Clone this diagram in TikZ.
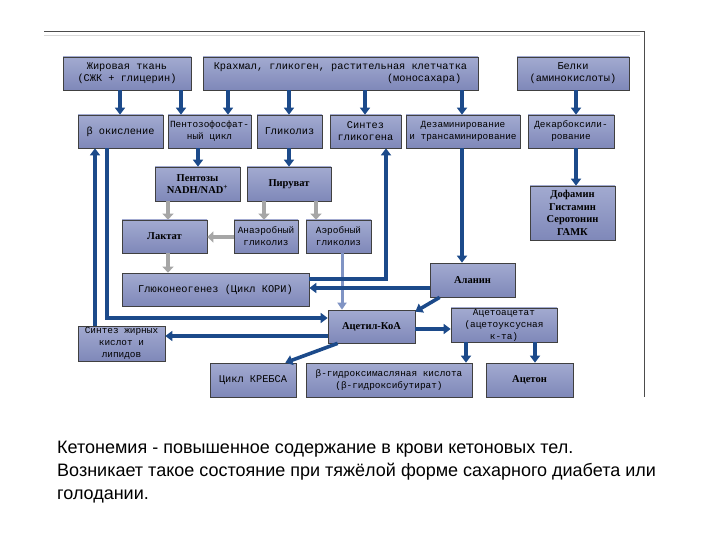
\documentclass[tikz,border=0pt]{standalone}
\usepackage{fontspec}
\setmainfont{Liberation Serif}
\setsansfont{Liberation Sans}
\setmonofont{Liberation Mono}
\usetikzlibrary{arrows.meta,calc}
\definecolor{navy}{HTML}{1C4A8A}
\definecolor{boxtop}{HTML}{A2AAD0}
\definecolor{boxmid}{HTML}{DDE0EF}
\definecolor{boxbot}{HTML}{7F88B9}
\definecolor{aerc}{HTML}{8094C4}
\tikzset{
  box/.style={draw=black!75, line width=0.7pt, top color=boxtop, middle color=boxmid, bottom color=boxbot,
    inner sep=1pt, align=center, text=black, font=\ttfamily\fontsize{10.3}{12}\selectfont},
  small/.style={font=\ttfamily\fontsize{9.4}{12}\selectfont},
  bbox/.style={box, font=\rmfamily\bfseries\fontsize{10.5}{12.5}\selectfont},
  darr/.style={draw=navy, line width=3.6pt, -{Triangle[width=10pt,length=7pt]}},
  garr/.style={draw=gray!70, line width=4pt, -{Triangle[width=11pt,length=6pt]}},
  aarr/.style={draw=aerc, line width=3pt, -{Triangle[width=9pt,length=7pt]}},
  note/.style={anchor=base west, inner sep=0pt, text=black, font=\sffamily\fontsize{18}{22}\selectfont}
}
\begin{document}
\begin{tikzpicture}[x=1pt,y=-1pt]
\useasboundingbox (0,0) rectangle (720,540);
\fill[white] (0,0) rectangle (720,540);
% frame
\draw[black!70, line width=1pt] (44,32) -- (644,32) -- (644,397);
\draw[black!15, line width=0.8pt] (44,35) -- (640,35);
% row 1
\node[box, minimum width=128pt, minimum height=33pt] (fat) at (127,73.5) {Жировая ткань\\(СЖК + глицерин)};
\node[box, minimum width=275pt, minimum height=33pt] (starch) at (340.5,73.5) {Крахмал, гликоген, растительная клетчатка\\\hfill(моносахара)\hspace*{6pt}};
\node[box, minimum width=112pt, minimum height=33pt] (prot) at (573,73.5) {Белки\\(аминокислоты)};
% row 2
\node[box, minimum width=85pt, minimum height=33pt] (beta) at (120.5,131.5) {β окисление};
\node[box, small, minimum width=83pt, minimum height=33pt] (pent) at (209.5,131.5) {Пентозофосфат-\\ный цикл};
\node[box, minimum width=65pt, minimum height=33pt] (glyc) at (289.5,131.5) {Гликолиз};
\node[box, minimum width=71pt, minimum height=33pt] (syng) at (365.5,131.5) {Синтез\\гликогена};
\node[box, small, minimum width=114pt, minimum height=33pt] (deam) at (463,131.5) {Дезаминирование\\и трансаминирование};
\node[box, small, minimum width=86pt, minimum height=33pt] (decarb) at (571,131.5) {Декарбоксили-\\рование};
% row 3
\node[bbox, minimum width=85pt, minimum height=34pt] (pents) at (197.5,184) {Пентозы\\NADH/NAD\textsuperscript{+}};
\node[bbox, minimum width=84pt, minimum height=34pt] (pyr) at (289,184) {Пируват};
\node[bbox, minimum width=85pt, minimum height=54pt] (dopa) at (572.5,213) {Дофамин\\Гистамин\\Серотонин\\ГАМК};
% row 4
\node[bbox, minimum width=85pt, minimum height=33pt] (lact) at (164.5,236.5) {Лактат};
\node[box, small, minimum width=64pt, minimum height=33pt] (anaer) at (266,236.5) {Анаэробный\\гликолиз};
\node[box, small, minimum width=65pt, minimum height=33pt] (aer) at (338.5,236.5) {Аэробный\\гликолиз};
% row 5
\node[box, minimum width=187pt, minimum height=33pt] (gng) at (215.5,289.5) {Глюконеогенез (Цикл КОРИ)};
\node[bbox, minimum width=85pt, minimum height=34pt] (ala) at (472.5,280) {Аланин};
% row 6
\node[bbox, minimum width=87pt, minimum height=33pt] (acoa) at (371.5,326.5) {Ацетил-КоА};
\node[box, small, minimum width=106pt, minimum height=34pt] (aca) at (504,325) {Ацетоацетат\\(ацетоуксусная\\к-та)};
\node[box, small, minimum width=87pt, minimum height=35pt] (fa) at (121.5,343.5) {Синтез жирных\\кислот и\\липидов};
% row 7
\node[box, minimum width=86pt, minimum height=34pt] (krebs) at (253,380) {Цикл КРЕБСА};
\node[box, small, minimum width=166pt, minimum height=34pt] (bhb) at (389,380) {β-гидроксимасляная кислота\\(β-гидроксибутират)};
\node[bbox, minimum width=87pt, minimum height=34pt] (acet) at (529.5,380) {Ацетон};
% column / row helpers
\coordinate (x95) at (95,0);
\coordinate (x107) at (107,0);
\coordinate (x120) at (120,0);
\coordinate (x168) at (168,0);
\coordinate (x181) at (181,0);
\coordinate (x198) at (198,0);
\coordinate (x228) at (228,0);
\coordinate (x264) at (264,0);
\coordinate (x289) at (289,0);
\coordinate (x316) at (316,0);
\coordinate (x342) at (342,0);
\coordinate (x365) at (365,0);
\coordinate (x386) at (386,0);
\coordinate (x462) at (462,0);
\coordinate (x466) at (466,0);
\coordinate (x535) at (535,0);
\coordinate (x576) at (576,0);
\coordinate (y237) at (0,237);
\coordinate (y279) at (0,279);
\coordinate (y288) at (0,288);
\coordinate (y318) at (0,318);
\coordinate (y329) at (0,329);
\coordinate (y336) at (0,336);
% gray arrows
\draw[garr] (pents.south -| x168) -- (lact.north -| x168);
\draw[garr] (pyr.south -| x264) -- (anaer.north -| x264);
\draw[garr] (pyr.south -| x316) -- (aer.north -| x316);
\draw[garr] (anaer.west |- y237) -- (lact.east |- y237);
\draw[garr] (lact.south -| x168) -- (gng.north -| x168);
\draw[aarr] (aer.south -| x342) -- (acoa.north -| x342);
% dark arrows
\draw[darr] (fat.south -| x120) -- (beta.north -| x120);
\draw[darr] (fat.south -| x181) -- (pent.north -| x181);
\draw[darr] (starch.south -| x228) -- (pent.north -| x228);
\draw[darr] (starch.south -| x289) -- (glyc.north -| x289);
\draw[darr] (starch.south -| x365) -- (syng.north -| x365);
\draw[darr] (prot.south -| x462) -- (deam.north -| x462);
\draw[darr] (prot.south -| x576) -- (decarb.north -| x576);
\draw[darr] (pent.south -| x198) -- (pents.north -| x198);
\draw[darr] (glyc.south -| x289) -- (pyr.north -| x289);
\draw[darr] (decarb.south -| x576) -- (dopa.north -| x576);
\draw[darr] (deam.south -| x462) -- (ala.north -| x462);
\draw[darr] (ala.west |- y288) -- (gng.east |- y288);
\draw[darr] (gng.east |- y279) -| (syng.south -| x386);
\draw[darr] (beta.south -| x107) |- (acoa.west |- y318);
\draw[darr] (fa.north -| x95) -- (beta.south -| x95);
\draw[darr] (acoa.west |- y336) -- (fa.east |- y336);
\draw[darr] ($(ala.south west)+(10,0)$) -- ($(acoa.north east)+(0,2)$);
\draw[darr] (acoa.east |- y329) -- (aca.west |- y329);
\draw[darr] ($(acoa.south west)+(10,0)$) -- ($(krebs.north east)+(-11,0)$);
\draw[darr] (aca.south -| x466) -- (bhb.north -| x466);
\draw[darr] (aca.south -| x535) -- (acet.north -| x535);
% note
\node[note] (t1) at (57,453) {Кетонемия - повышенное содержание в крови кетоновых тел.};
\node[note] (t2) at (57,476) {Возникает такое состояние при тяжёлой форме сахарного диабета или};
\node[note] (t3) at (57,499) {голодании.};
\end{tikzpicture}
\end{document}
